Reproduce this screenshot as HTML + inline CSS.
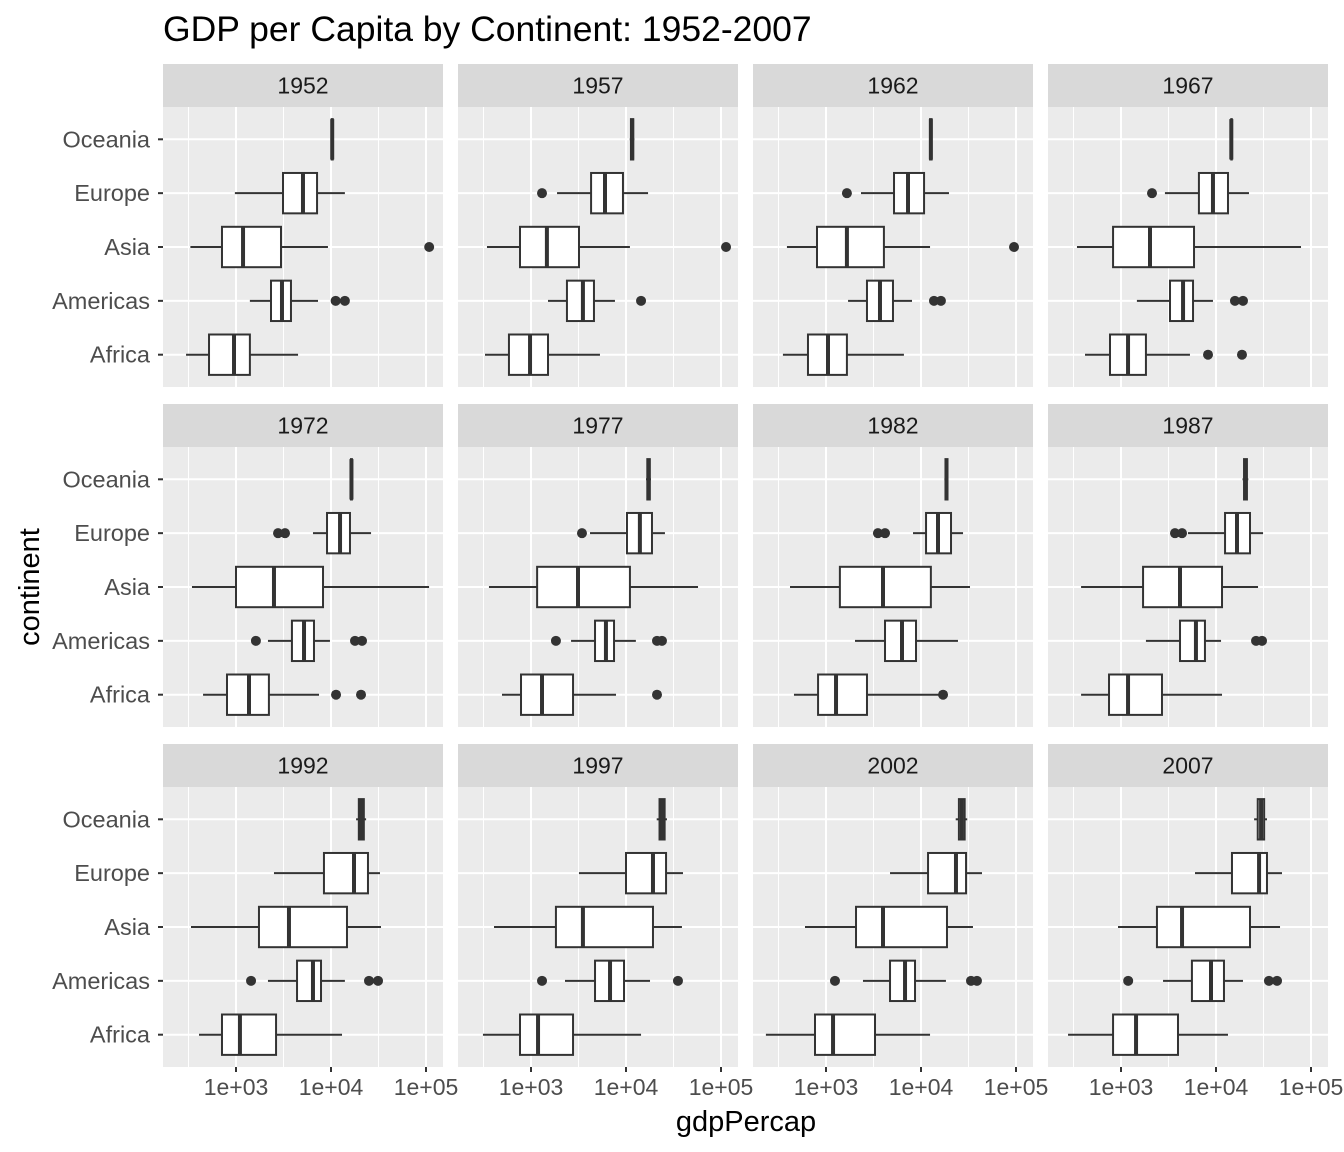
<!DOCTYPE html>
<html><head><meta charset="utf-8"><style>
body{margin:0;background:#fff;}
svg{display:block;font-family:"Liberation Sans",Arial,sans-serif;}
</style></head><body>
<svg id="chart" width="1344" height="1152" viewBox="0 0 1344 1152" xmlns="http://www.w3.org/2000/svg">
<rect width="1344" height="1152" fill="#fff"/>
<text x="163" y="41" font-size="35.5" fill="#000">GDP per Capita by Continent: 1952-2007</text>
<text x="746" y="1131" font-size="29" fill="#000" text-anchor="middle">gdpPercap</text>
<text transform="translate(39,587) rotate(-90)" font-size="29" fill="#000" text-anchor="middle">continent</text>
<g id="panels"></g>
</svg>
<script>
const years = [1952,1957,1962,1967,1972,1977,1982,1987,1992,1997,2002,2007];
const continents = ["Africa","Americas","Asia","Europe","Oceania"];
const xTicks = [1000,10000,100000];
const xTickLabels = ["1e+03","1e+04","1e+05"];
const xMinor = [316.2,3162,31623];
// [year][continent] = [lower whisker, q1, median, q3, upper whisker]
const stats1950s = [
 [[298,520,953,1400,4500],[1400,2336,3048,3790,7300],[331,712,1186,2976,9290],[973,3125,5070,7130,14000],[10040,10170,10298,10428,10557]],
 [[328,586,977,1510,5320],[1510,2390,3520,4600,7650],[344,766,1470,3200,11000],[1880,4290,6010,9290,17070],[10950,11274,11599,11923,12247]]
];
const stats1960s = [
 [[352,646,1050,1660,6610],[1707,2700,3700,5070,8040],[388,804,1660,4070,12450],[2336,5200,7300,10770,19700],[12217,12457,12697,12937,13176]],
 [[418,766,1186,1830,5320],[1470,3280,4500,5730,9290],[344,825,2020,5870,78500],[2900,6610,9290,13370,22240],[14464,14479,14495,14510,14526]]
];
const stats1970s = [
 [[450,804,1370,2220,7480],[2170,3880,5200,6620,9750],[344,1000,2510,8240,107700],[6460,9080,12450,15840,26400],[16046,16232,16418,16603,16789]],
 [[495,785,1306,2770,7850],[2640,4720,6150,7480,12700],[361,1160,3125,11000,57300],[4180,10240,14000,18770,25700],[16234,16759,17284,17809,18334]]
];
const stats1980s = [
 [[460,825,1275,2700,15840],[2020,4180,6310,8860,24500],[418,1400,3980,12700,32800],[8240,11300,15100,20700,27700],[17632,18093,18555,19016,19477]],
 [[380,748,1186,2700,11570],[1830,4180,6150,7650,11300],[380,1707,4180,11570,27700],[5070,12450,16630,22800,31260],[19007,19728,20448,21168,21889]]
];
const stats1990s = [
 [[408,712,1100,2640,13060],[2170,4390,6460,7850,14000],[336,1745,3610,14730,33600],[2510,8430,17460,24500,32800],[18363,19629,20894,22160,23425]],
 [[312,766,1186,2770,14400],[2280,4720,6790,9530,17900],[408,1830,3520,19230,38800],[3200,10000,19230,26400,39800],[21050,22537,24024,25511,26998]]
];
const stats2000s = [
 [[233,766,1186,3280,12450],[2450,4720,6790,8650,18300],[601,2070,3980,18770,35240],[4720,11860,23340,29800,43850],[23190,25065,26939,28814,30688]],
 [[277,825,1440,3980,13370],[2770,5580,8860,12130,19230],[930,2390,4390,22800,47200],[6010,14730,28400,34400,49500],[25185,27498,29810,32123,34435]]
];
// [year][continent] = outlier values
const outliers = [
 [[],[11200,14000],[108000],[],[]],
 [[],[14400],[113000],[1306],[]],
 [[],[13700,16200],[95300],[1660],[]],
 [[8240,18770],[15840,19230],[],[2120],[]],
 [[11300,20700],[1620,17900,21200],[],[2770,3280],[]],
 [[21200],[1830,21200,23900],[],[3440],[]],
 [[17070],[],[],[3520,4180],[]],
 [[],[26400,30500],[],[3700,4390],[]],
 [[],[1440,25120,31260],[],[],[]],
 [[],[1306,35240],[],[],[]],
 [[],[1243,33600,38800],[],[],[]],
 [[],[1190,36100,43900],[],[],[]]
];
const stats = [].concat(stats1950s,stats1960s,stats1970s,stats1980s,stats1990s,stats2000s);

const NS="http://www.w3.org/2000/svg";
const root=document.getElementById('panels');
function mk(tag,attrs,parent){const e=document.createElementNS(NS,tag);for(const k in attrs)e.setAttribute(k,attrs[k]);(parent||root).appendChild(e);return e;}
const PW=280, PH=280, STRIP=43;
function panelLeft(c){return 163+295*c;}
function rowTop(r){return 64+340*r;}
function xScale(v,c){return panelLeft(c)+73+95*(Math.log10(v)-3);}
function yScale(i,r){return rowTop(r)+STRIP+PH-(i+0.6)*PH/5.2;}
const BOXH=0.75*PH/5.2;

years.forEach((yr,k)=>{
  const c=k%4, r=Math.floor(k/4);
  const L=panelLeft(c), T=rowTop(r)+STRIP;
  const g=mk('g',{});
  
  
  const strip=mk('rect',{x:L,y:rowTop(r),width:PW,height:STRIP,fill:'#d9d9d9'},g);
  
  
  const st=mk('text',{x:L+PW/2,y:rowTop(r)+29.5,'font-size':23,fill:'#1a1a1a','text-anchor':'middle'},g);
  st.textContent=yr;
  
  
  const bg=mk('rect',{x:L,y:T,width:PW,height:PH,fill:'#ebebeb'},g);
  
  
  xMinor.forEach(v=>{const x=xScale(v,c);if(x>L&&x<L+PW){const l=mk('line',{x1:x,x2:x,y1:T,y2:T+PH,stroke:'#fff','stroke-width':1},g);}});
  xTicks.forEach(v=>{const x=xScale(v,c);const l=mk('line',{x1:x,x2:x,y1:T,y2:T+PH,stroke:'#fff','stroke-width':2},g);});
  continents.forEach((cn,i)=>{const y=yScale(i,r);const l=mk('line',{x1:L,x2:L+PW,y1:y,y2:y,stroke:'#fff','stroke-width':2},g);});
  continents.forEach((cn,i)=>{
    const s=stats[k][i], y=yScale(i,r);
    const bx=mk('g',{},g);
    
    
    mk('line',{x1:xScale(s[0],c),x2:xScale(s[1],c),y1:y,y2:y,stroke:'#333','stroke-width':2},bx);
    mk('line',{x1:xScale(s[3],c),x2:xScale(s[4],c),y1:y,y2:y,stroke:'#333','stroke-width':2},bx);
    mk('rect',{x:xScale(s[1],c),y:y-BOXH/2,width:Math.max(0.5,xScale(s[3],c)-xScale(s[1],c)),height:BOXH,fill:'#fff',stroke:'#333','stroke-width':2},bx);
    mk('line',{x1:xScale(s[2],c),x2:xScale(s[2],c),y1:y-BOXH/2,y2:y+BOXH/2,stroke:'#333','stroke-width':4},bx);
    outliers[k][i].forEach(v=>{const p=mk('circle',{cx:xScale(v,c),cy:y,r:5,fill:'#333'},bx);});
  });
  if(c===0){
    continents.forEach((cn,i)=>{const y=yScale(i,r);
      const t=mk('line',{x1:L-5,x2:L,y1:y,y2:y,stroke:'#333','stroke-width':2},g);
      const tx=mk('text',{x:L-13,y:y+8,'font-size':23.5,fill:'#4d4d4d','text-anchor':'end'},g);tx.textContent=cn;});
  }
  if(r===2){
    xTicks.forEach((v,j)=>{const x=xScale(v,c);
      const t=mk('line',{x1:x,x2:x,y1:T+PH,y2:T+PH+5,stroke:'#333','stroke-width':2},g);
      const tx=mk('text',{x:x,y:T+PH+28,'font-size':23,fill:'#4d4d4d','text-anchor':'middle'},g);tx.textContent=xTickLabels[j];});
  }
});
</script>
</body></html>
